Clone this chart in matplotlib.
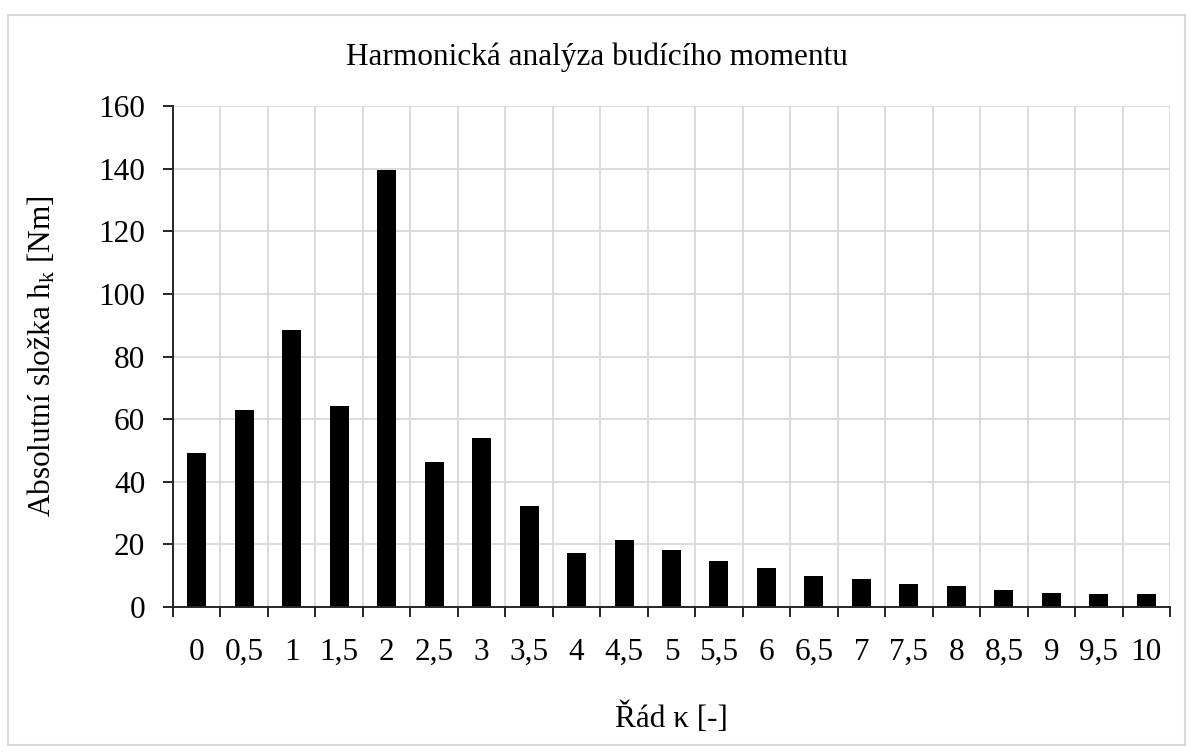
import matplotlib
matplotlib.use("Agg")
import matplotlib.pyplot as plt
from matplotlib.patches import Rectangle
import numpy as np

categories = ["0", "0,5", "1", "1,5", "2", "2,5", "3", "3,5", "4", "4,5", "5",
              "5,5", "6", "6,5", "7", "7,5", "8", "8,5", "9", "9,5", "10"]
values = [49.3, 62.8, 88.4, 64.1, 139.6, 46.2, 53.9, 32.1, 17.4, 21.3, 18.2,
          14.6, 12.6, 10.0, 8.8, 7.4, 6.7, 5.4, 4.6, 4.0, 4.0]
y_ticks = [0, 20, 40, 60, 80, 100, 120, 140, 160]

title = "Harmonická analýza budícího momentu"
xlabel = "Řád κ [-]"
ylabel = r"Absolutní složka h$_\mathrm{k}$ [Nm]"

plt.rcParams['font.family'] = ['Liberation Serif', 'DejaVu Serif']
plt.rcParams['mathtext.fontset'] = 'custom'
plt.rcParams['mathtext.rm'] = 'Liberation Serif'
plt.rcParams['mathtext.it'] = 'Liberation Serif:italic'

W, H = 1193, 754
fig = plt.figure(figsize=(W / 100, H / 100), dpi=100)
fig.patch.set_facecolor('white')
fig.patches.append(Rectangle((8 / W, 1 - 745 / H), (1185 - 8) / W, (745 - 15) / H,
                             transform=fig.transFigure, fill=False,
                             edgecolor='#d9d9d9', linewidth=1.5))

left, right, top, bottom = 173, 1170, 106, 607
ax = fig.add_axes([left / W, 1 - bottom / H, (right - left) / W, (bottom - top) / H])

x = np.arange(len(categories))
ax.bar(x, values, width=0.4, color='black', zorder=3)

ax.set_xlim(-0.5, len(categories) - 0.5)
ax.set_ylim(0, 160)
ax.set_yticks(y_ticks)
ax.set_yticklabels([str(v) for v in y_ticks])
ax.set_xticks(x)
ax.set_xticklabels(categories)
ax.set_xticks(np.arange(len(categories) + 1) - 0.5, minor=True)

ax.grid(True, which='major', axis='y', color='#d9d9d9', linewidth=1.3, zorder=0)
ax.grid(True, which='minor', axis='x', color='#d9d9d9', linewidth=1.3, zorder=0)
ax.set_axisbelow(True)

for s in ['top', 'right']:
    ax.spines[s].set_visible(False)
for s in ['left', 'bottom']:
    ax.spines[s].set_color('#262626')
    ax.spines[s].set_linewidth(1.4)
    ax.spines[s].set_zorder(4)

ax.tick_params(axis='x', which='major', length=0, pad=22, labelsize=22.5, colors='black')
ax.tick_params(axis='x', which='minor', length=7, width=1.4, direction='out', color='#262626')
ax.tick_params(axis='y', which='major', length=7, width=1.4, direction='out',
               pad=13, labelsize=22.5, color='#262626', labelcolor='black')

fig.text(597 / W, 1 - 57 / H, title, ha='center', va='center', fontsize=22.5)
fig.text((left + right) / 2 / W, 1 - 718 / H, xlabel, ha='center', va='center', fontsize=22.5)
fig.text(42 / W, 1 - 356 / H, ylabel, ha='center', va='center', rotation=90, fontsize=22.5)

fig.savefig("out.png", dpi=100)
